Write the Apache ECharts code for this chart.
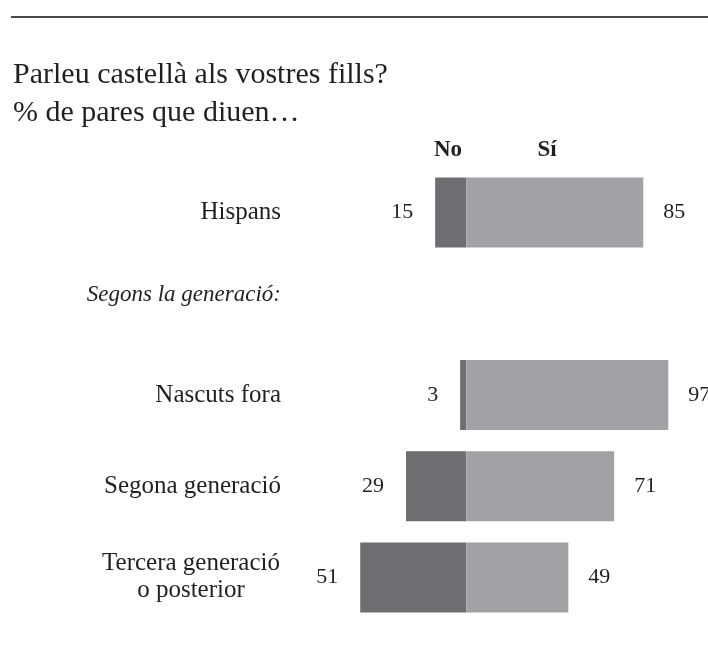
<!DOCTYPE html>
<html>
<head>
<meta charset="utf-8">
<script src="https://cdn.jsdelivr.net/npm/echarts@6/dist/echarts.min.js"></script>
<style>
  html, body { margin: 0; padding: 0; background: #fff; }
  #main { width: 708px; height: 646px; }
</style>
</head>
<body>
<div id="main"></div>
<script>
// categories (top to bottom)
var categories = ['Hispans', 'Segons la generació:', 'Nascuts fora', 'Segona generació', 'Tercera generació\no posterior'];
// % que diuen "No" / "Sí"
var noValues = [15, null, 3, 29, 51];
var siValues = [85, null, 97, 71, 49];

var FONT = '"Liberation Serif", "DejaVu Serif", serif';
var INK = '#231f20';

var chart = echarts.init(document.getElementById('main'));

var option = {
  backgroundColor: '#fff',
  animation: false,
  textStyle: { fontFamily: FONT, color: INK },
  title: {
    text: 'Parleu castellà als vostres fills?\n% de pares que diuen…',
    left: 8,
    top: 51,
    textStyle: {
      fontFamily: FONT,
      fontSize: 30,
      fontWeight: 'normal',
      color: INK,
      lineHeight: 38
    }
  },
  graphic: [
    {
      type: 'line',
      shape: { x1: 11, y1: 17, x2: 708, y2: 17 },
      style: { stroke: '#4a4a4a', lineWidth: 2 }
    },
    {
      type: 'text', x: 448, y: 150,
      style: { text: 'No', fontFamily: FONT, fontSize: 23, fontWeight: 'bold', fill: INK, align: 'center', verticalAlign: 'middle' }
    },
    {
      type: 'text', x: 547, y: 150,
      style: { text: 'Sí', fontFamily: FONT, fontSize: 23, fontWeight: 'bold', fill: INK, align: 'center', verticalAlign: 'middle' }
    }
  ],
  grid: {
    left: 341.5,
    right: 33.5,
    top: 167,
    bottom: 23,
    containLabel: false
  },
  xAxis: {
    type: 'value',
    min: -60,
    max: 100,
    show: false
  },
  yAxis: {
    type: 'category',
    inverse: true,
    data: categories,
    axisLine: { show: false },
    axisTick: { show: false },
    splitLine: { show: false },
    axisLabel: {
      margin: 60.5,
      color: INK,
      fontFamily: FONT,
      fontSize: 25,
      formatter: function (v) {
        if (v === 'Segons la generació:') return '{it|' + v + '}';
        if (v.indexOf('\n') >= 0) {
          return v.split('\n').map(function (s) { return '{c|' + s + '}'; }).join('\n');
        }
        return '{r|' + v + '}';
      },
      rich: {
        r: { fontFamily: FONT, fontSize: 25, color: INK },
        it: { fontFamily: FONT, fontSize: 23, fontStyle: 'italic', color: INK, padding: [0, 0, 18, 0] },
        c: { fontFamily: FONT, fontSize: 25, color: INK, width: 180, align: 'center', lineHeight: 27 }
      }
    }
  },
  series: [
    {
      name: 'No',
      type: 'bar',
      barWidth: 70,
      barGap: '-100%',
      data: noValues.map(function (v) { return v == null ? null : -v; }),
      itemStyle: { color: '#6d6e72' },
      label: {
        show: true,
        position: 'left',
        distance: 22,
        fontFamily: FONT,
        fontSize: 22,
        color: INK,
        formatter: function (p) { return Math.abs(p.value); }
      }
    },
    {
      name: 'Sí',
      type: 'bar',
      barWidth: 70,
      data: siValues,
      itemStyle: { color: '#a1a2a6' },
      label: {
        show: true,
        position: 'right',
        distance: 20,
        fontFamily: FONT,
        fontSize: 22,
        color: INK
      }
    }
  ]
};

chart.setOption(option);
</script>
</body>
</html>
